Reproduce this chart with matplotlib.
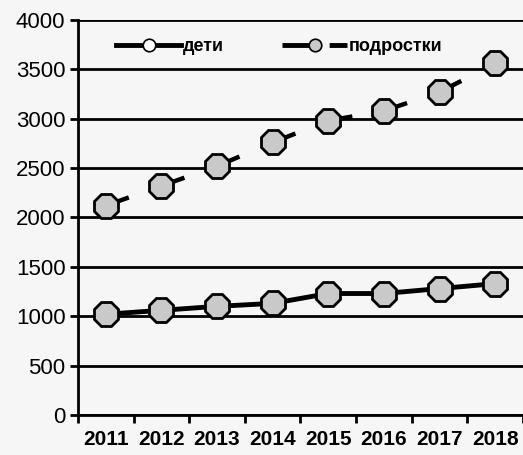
import matplotlib
matplotlib.use("Agg")
import matplotlib.pyplot as plt
from matplotlib.lines import Line2D
import numpy as np

years = ["2011", "2012", "2013", "2014", "2015", "2016", "2017", "2018"]
deti = [1020, 1060, 1100, 1130, 1230, 1230, 1280, 1330]
podrostki = [2120, 2320, 2520, 2760, 2980, 3080, 3270, 3560]
yticks = [0, 500, 1000, 1500, 2000, 2500, 3000, 3500, 4000]

bg = "#f6f6f6"
fig = plt.figure(figsize=(5.23, 4.55), dpi=100, facecolor=bg)
ax = fig.add_axes([0.149, 0.088, 0.851, 0.868], facecolor=bg)

x = np.arange(len(years))
mk = dict(marker="8", markersize=18, markerfacecolor="#c9c9c9",
          markeredgecolor="black", markeredgewidth=2)
ax.plot(x, deti, color="black", lw=3.5, solid_capstyle="butt", zorder=3, **mk)
# dashed series: a short dash after each marker
for i in range(len(x) - 1):
    ax.plot(x[i:i + 2], podrostki[i:i + 2], color="black", lw=3.2,
            dashes=(5.5, 40), dash_capstyle="butt", zorder=3)
ax.plot(x, podrostki, linestyle="none", zorder=4, **mk)

ax.set_xlim(-0.5, len(years) - 0.5)
ax.set_ylim(0, 4000)
ax.set_yticks(yticks)
ax.set_yticklabels([str(v) for v in yticks], fontsize=16,
                   family=["Liberation Sans", "DejaVu Sans"])
ax.set_xticks(x)
ax.set_xticklabels(years, fontsize=15, fontweight="bold",
                   family=["Liberation Sans", "DejaVu Sans"])
ax.set_xticks(np.arange(len(years) + 1) - 0.5, minor=True)
ax.tick_params(axis="x", which="major", length=0, pad=11)
ax.tick_params(axis="x", which="minor", length=6, width=2, direction="out")
ax.tick_params(axis="y", length=6, width=2, pad=3)

ax.yaxis.grid(True, color="black", lw=2)
ax.set_axisbelow(True)
for s in ["top", "right"]:
    ax.spines[s].set_visible(False)
for s in ["left", "bottom"]:
    ax.spines[s].set_linewidth(2)

h1 = Line2D([], [], color="black", lw=3.5, marker="o", markersize=9,
            markerfacecolor="white", markeredgecolor="black", markeredgewidth=1.2)
h2 = Line2D([], [], color="black", lw=3.5, dashes=(7.4, 2.3, 3.7, 10),
            dash_capstyle="butt", marker="o", markersize=9,
            markerfacecolor="#c9c9c9", markeredgecolor="black", markeredgewidth=1.2)
ax.legend([h1, h2], ["дети", "подростки"], loc="upper left",
          bbox_to_anchor=(0.05, 0.995), ncol=2, frameon=False,
          handlelength=3.6, columnspacing=3.2, handletextpad=0.1,
          prop=dict(family=["Liberation Sans", "DejaVu Sans"], weight="bold", size=13))

fig.savefig("out.png", dpi=100, facecolor=bg)
